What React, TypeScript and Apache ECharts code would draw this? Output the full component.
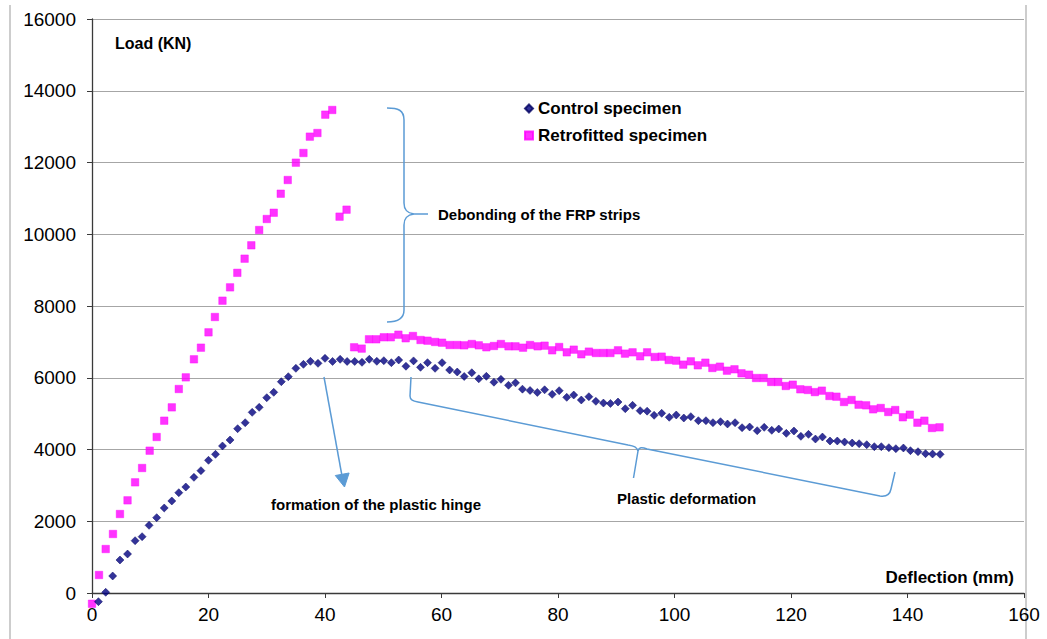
import React, { useEffect, useRef } from "react";
import * as echarts from "echarts";

// ---------- Data ----------
const xTicks = [0, 20, 40, 60, 80, 100, 120, 140, 160];
const yTicks = [0, 2000, 4000, 6000, 8000, 10000, 12000, 14000, 16000];

const controlDeflection = [
  1.1, 2.35, 3.55, 4.8, 6.1, 7.4, 8.6, 9.8, 11.1, 12.4, 13.7, 14.9, 16.1, 17.5, 18.7, 20.0,
  21.2, 22.4, 23.7, 25.0, 26.3, 27.5, 28.7, 30.0, 31.2, 32.5, 33.7, 35.0, 36.3, 37.5, 38.8,
  40.0, 41.3, 42.6, 43.8, 45.1, 46.35, 47.6, 48.9, 50.1, 51.4, 52.65, 53.9, 55.2, 56.4, 57.6,
  58.9, 60.1, 61.4, 62.7, 63.9, 65.2, 66.4, 67.7, 69.0, 70.2, 71.5, 72.7, 73.9, 75.2, 76.45,
  77.7, 79.0, 80.2, 81.5, 82.7, 84.0, 85.3, 86.5, 87.8, 89.0, 90.3, 91.55, 92.8, 94.1, 95.3,
  96.5, 97.8, 99.1, 100.3, 101.6, 102.8, 104.1, 105.4, 106.6, 107.9, 109.1, 110.4, 111.6,
  112.9, 114.2, 115.4, 116.7, 117.9, 119.2, 120.5, 121.7, 123.0, 124.2, 125.4, 126.7, 127.95,
  129.2, 130.5, 131.7, 133.0, 134.3, 135.5, 136.8, 138.0, 139.3, 140.5, 141.8, 143.1, 144.3,
  145.6,
];
const controlLoad = [
  -242, 20, 474, 920, 1087, 1458, 1570, 1886, 2100, 2370, 2565, 2796, 2955, 3224, 3410, 3699,
  3866, 4098, 4265, 4580, 4747, 5036, 5175, 5444, 5594, 5890, 6030, 6263, 6374, 6458, 6402,
  6541, 6454, 6514, 6454, 6454, 6430, 6514, 6458, 6476, 6420, 6495, 6320, 6470, 6291, 6420,
  6263, 6420, 6216, 6160, 6035, 6140, 5970, 6040, 5875, 5956, 5790, 5858, 5682, 5645, 5590,
  5665, 5537, 5640, 5454, 5519, 5380, 5472, 5343, 5295, 5282, 5324, 5138, 5231, 5082, 5068,
  4953, 5009, 4898, 4962, 4878, 4916, 4803, 4803, 4747, 4775, 4711, 4747, 4608, 4627, 4524,
  4618, 4534, 4571, 4450, 4515, 4367, 4422, 4292, 4348, 4237, 4237, 4209, 4181, 4162, 4134,
  4079, 4079, 4051, 4023, 4042, 3967, 3939, 3883, 3874, 3865,
];

const retroDeflection = [
  0.0, 1.2, 2.35, 3.6, 4.8, 6.1, 7.4, 8.6, 9.9, 11.1, 12.4, 13.7, 14.9, 16.1, 17.5, 18.7,
  20.0, 21.1, 22.4, 23.7, 24.95, 26.2, 27.35, 28.7, 30.0, 31.2, 32.4, 33.6, 35.0, 36.3, 37.4,
  38.7, 40.05, 41.25, 42.5, 43.7, 45.0, 46.3, 47.55, 48.8, 50.1, 51.3, 52.6, 53.85, 55.1, 56.4,
  57.6, 58.9, 60.1, 61.4, 62.7, 63.9, 65.2, 66.4, 67.7, 69.0, 70.2, 71.5, 72.7, 74.0, 75.2,
  76.5, 77.7, 79.0, 80.2, 81.5, 82.7, 84.0, 85.3, 86.5, 87.8, 89.0, 90.3, 91.5, 92.8, 94.1,
  95.3, 96.6, 97.8, 99.0, 100.3, 101.5, 102.8, 104.0, 105.3, 106.5, 107.8, 109.0, 110.3,
  111.5, 112.8, 114.0, 115.3, 116.6, 117.8, 119.1, 120.3, 121.6, 122.9, 124.1, 125.3, 126.6,
  127.8, 129.1, 130.4, 131.6, 132.9, 134.1, 135.4, 136.7, 137.9, 139.2, 140.4, 141.7, 142.9,
  144.2, 145.5,
];
const retroLoad = [
  -300, 502, 1226, 1645, 2202, 2583, 3085, 3484, 3967, 4348, 4803, 5175, 5686, 6011, 6514,
  6838, 7266, 7693, 8148, 8520, 8925, 9319, 9692, 10118, 10425, 10600, 11130, 11512, 11995,
  12265, 12720, 12822, 13333, 13464, 10490, 10685, 6849, 6812, 7072, 7072, 7128, 7128, 7200,
  7100, 7164, 7052, 7033, 6997, 6977, 6913, 6913, 6904, 6941, 6904, 6849, 6885, 6941, 6876,
  6876, 6838, 6913, 6876, 6894, 6765, 6857, 6709, 6783, 6654, 6728, 6690, 6690, 6690, 6765,
  6672, 6709, 6598, 6709, 6579, 6588, 6495, 6476, 6365, 6458, 6347, 6420, 6272, 6309, 6197,
  6236, 6124, 6086, 5993, 5993, 5882, 5882, 5770, 5807, 5678, 5659, 5600, 5640, 5491, 5472,
  5324, 5380, 5249, 5231, 5120, 5157, 5045, 5101, 4898, 4970, 4747, 4803, 4599, 4618,
];

const seriesNames = ["Control specimen", "Retrofitted specimen"];
const xAxisTitle = "Deflection (mm)";
const yAxisTitle = "Load (KN)";
const noteDebond = "Debonding of the FRP strips";
const noteHinge = "formation of the plastic hinge";
const notePlastic = "Plastic deformation";

// ---------- Annotation shapes ----------
const FONT = "'Liberation Sans', Arial, sans-serif";
const ANNO = "#5b9bd5";

const debondBracePath =
  "M387,108 C398,108 404,110 404,120 L404,203 C404,210 407,213 414,214 C407,215 404,218 404,225 L404,310 C404,318 398,322 387,322 M414,214 L428,214";
const plasticBracePath =
  "M411,377 L410,396 C410,400 413,401 418,402 L628,445 C634,446 637,447 638,451 L633.5,478 M638,451 C639,447 642,447 647,449 L880,496 C887,497 890,494 891,489 L895,472";

echarts.graphic.registerShape("debondBrace", echarts.graphic.extendPath(debondBracePath, {}));
echarts.graphic.registerShape("plasticBrace", echarts.graphic.extendPath(plasticBracePath, {}));

export default function App() {
  const ref = useRef<HTMLDivElement>(null);

  useEffect(() => {
    document.body.style.margin = "0";
    const chart = echarts.init(ref.current!, null, { renderer: "svg" });

    const controlData = controlDeflection.map((x, i) => [x, controlLoad[i]]);
    const retroData = retroDeflection.map((x, i) => [x, retroLoad[i]]);

    const option: any = {
      animation: false,
      backgroundColor: "#ffffff",
      grid: { left: 92, right: 23, top: 19, bottom: 46, containLabel: false },
      xAxis: {
        type: "value",
        min: xTicks[0],
        max: xTicks[xTicks.length - 1],
        interval: 20,
        axisLine: { show: true, onZero: false, lineStyle: { color: "#3a3a3a", width: 1.3 } },
        axisTick: { show: true, length: 5, lineStyle: { color: "#3a3a3a" } },
        axisLabel: {
          color: "#000",
          fontSize: 19,
          fontFamily: FONT,
          margin: 12,
          formatter: (v: number) => String(v),
        },
        splitLine: { show: false },
      },
      yAxis: {
        type: "value",
        min: yTicks[0],
        max: yTicks[yTicks.length - 1],
        interval: 2000,
        axisLine: { show: true, onZero: false, lineStyle: { color: "#3a3a3a", width: 1.3 } },
        axisTick: { show: true, length: 5, lineStyle: { color: "#3a3a3a" } },
        axisLabel: {
          color: "#000",
          fontSize: 19,
          fontFamily: FONT,
          margin: 16,
          formatter: (v: number) => String(v),
        },
        splitLine: { show: true, lineStyle: { color: "#a6a6a6", width: 1.2 } },
      },
      legend: {
        orient: "vertical",
        left: 519,
        top: 95,
        itemWidth: 8,
        itemHeight: 8,
        itemGap: 10,
        itemTextGap: 5,
        textStyle: {
          fontSize: 17,
          fontWeight: "bold",
          fontFamily: FONT,
          color: "#000",
          lineHeight: 17,
        },
        data: [
          { name: seriesNames[0], icon: "diamond" },
          { name: seriesNames[1], icon: "rect" },
        ],
      },
      series: [
        {
          name: seriesNames[1],
          type: "scatter",
          symbol: "rect",
          symbolSize: 7.5,
          clip: false,
          itemStyle: { color: "#ff00ff", borderColor: "#ff00ff", borderWidth: 0.5 },
          data: retroData,
          z: 3,
        },
        {
          name: seriesNames[0],
          type: "scatter",
          symbol: "diamond",
          symbolSize: 8,
          clip: false,
          itemStyle: { color: "#000080", borderColor: "#000060", borderWidth: 0.6 },
          data: controlData,
          z: 4,
        },
      ],
      graphic: [
        { type: "line", shape: { x1: 10, y1: 5, x2: 10, y2: 639 }, style: { stroke: "#bdbdbd", lineWidth: 1.5 }, silent: true },
        { type: "line", shape: { x1: 1026, y1: 5, x2: 1026, y2: 639 }, style: { stroke: "#bdbdbd", lineWidth: 1.5 }, silent: true },
        {
          type: "debondBrace",
          x: 0,
          y: 0,
          style: { stroke: ANNO, fill: "none", lineWidth: 1.5 },
          z: 10,
        },
        {
          type: "plasticBrace",
          x: 0,
          y: 0,
          style: { stroke: ANNO, fill: "none", lineWidth: 1.5 },
          z: 10,
        },
        {
          type: "line",
          shape: { x1: 324, y1: 377, x2: 342, y2: 476 },
          style: { stroke: ANNO, lineWidth: 1.5 },
          z: 10,
        },
        {
          type: "polygon",
          shape: { points: [[335.3, 475.5], [349.1, 473], [344.5, 487]] },
          style: { fill: ANNO, stroke: ANNO, lineWidth: 1 },
          z: 10,
        },
        {
          type: "text",
          x: 115,
          y: 43,
          style: { text: yAxisTitle, fontSize: 16, fontWeight: "bold", fontFamily: FONT, fill: "#000", align: "left", verticalAlign: "middle" },
          z: 10,
        },
        {
          type: "text",
          x: 1014,
          y: 577,
          style: { text: xAxisTitle, fontSize: 17, fontWeight: "bold", fontFamily: FONT, fill: "#000", align: "right", verticalAlign: "middle" },
          z: 10,
        },
        {
          type: "text",
          x: 438,
          y: 214,
          style: { text: noteDebond, fontSize: 15, fontWeight: "bold", fontFamily: FONT, fill: "#000", align: "left", verticalAlign: "middle" },
          z: 10,
        },
        {
          type: "text",
          x: 271,
          y: 504,
          style: { text: noteHinge, fontSize: 15, fontWeight: "bold", fontFamily: FONT, fill: "#000", align: "left", verticalAlign: "middle" },
          z: 10,
        },
        {
          type: "text",
          x: 617,
          y: 498,
          style: { text: notePlastic, fontSize: 15, fontWeight: "bold", fontFamily: FONT, fill: "#000", align: "left", verticalAlign: "middle" },
          z: 10,
        },
      ],
    };

    chart.setOption(option);
    return () => chart.dispose();
  }, []);

  return (
    <div
      ref={ref}
      style={{ position: "fixed", left: 0, top: 0, width: 1047, height: 639, background: "#fff" }}
    />
  );
}
